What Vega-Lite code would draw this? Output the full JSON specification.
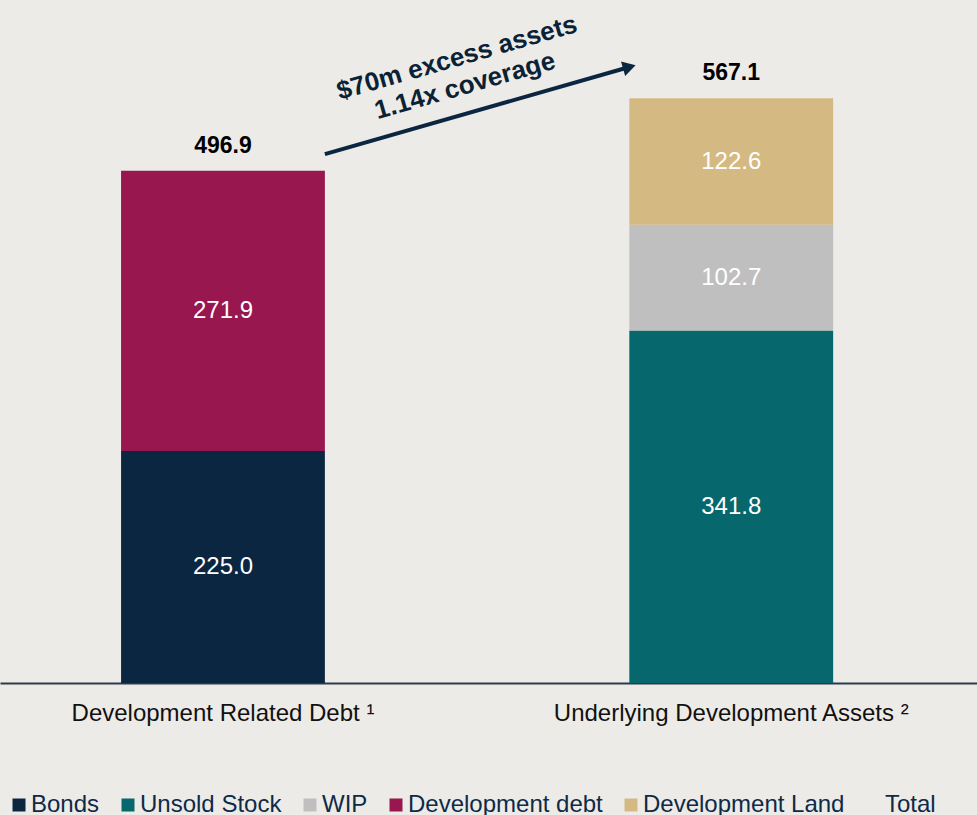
{
  "$schema": "https://vega.github.io/schema/vega-lite/v6.json",
  "width": 977,
  "height": 683,
  "autosize": {"type": "none"},
  "padding": {"left": 0, "top": 0, "right": 0, "bottom": 132},
  "background": "#EDEBE7",
  "config": {"view": {"stroke": null}, "font": "Liberation Sans"},
  "datasets": {
    "segments": [
      {"cat": "Development Related Debt", "series": "Bonds", "rank": 0, "value": 225.0},
      {"cat": "Development Related Debt", "series": "Development debt", "rank": 3, "value": 271.9},
      {"cat": "Underlying Development Assets", "series": "Unsold Stock", "rank": 1, "value": 341.8},
      {"cat": "Underlying Development Assets", "series": "WIP", "rank": 2, "value": 102.7},
      {"cat": "Underlying Development Assets", "series": "Development Land", "rank": 4, "value": 122.6}
    ],
    "arrow": [
      {"from": "Development Related Debt", "to": "Underlying Development Assets", "start": 513, "end": 597.5, "labelY": 606.2, "label": "$70m excess assets\n1.14x coverage"}
    ]
  },
  "layer": [
    {
      "data": {"name": "segments"},
      "transform": [
        {"stack": "value", "groupby": ["cat"], "sort": [{"field": "rank", "order": "ascending"}], "as": ["v0", "v1"]}
      ],
      "mark": {"type": "bar"},
      "encoding": {
        "x": {
          "field": "cat", "type": "nominal",
          "scale": {"domain": ["Development Related Debt", "Underlying Development Assets"], "paddingInner": 0.599, "paddingOuter": 0.2606, "align": 0.457},
          "axis": {
            "title": null, "labelAngle": 0, "ticks": false, "domain": true, "domainColor": "#2A3B4A", "domainWidth": 2,
            "labelFontSize": 24, "labelFont": "Liberation Sans", "labelColor": "#111111", "labelPadding": 18, "labelLimit": 600,
            "labelExpr": "datum.value == 'Development Related Debt' ? datum.value + ' ¹' : datum.value + ' ²'"
          }
        },
        "y": {"field": "v1", "type": "quantitative", "scale": {"domain": [0, 662.5], "nice": false, "zero": true}, "axis": null},
        "y2": {"field": "v0"},
        "color": {
          "field": "series", "type": "nominal",
          "scale": {
            "domain": ["Bonds", "Unsold Stock", "WIP", "Development debt", "Development Land", "Total"],
            "range": ["#0B2640", "#06676C", "#BFBFBF", "#97174E", "#D4BA82", "transparent"]
          },
          "legend": {
            "orient": "none", "legendX": 7, "legendY": 793, "direction": "horizontal", "columns": 6,
            "title": null, "symbolType": "square", "symbolSize": 169, "symbolStrokeWidth": 0,
            "labelFontSize": 24, "labelFont": "Liberation Sans", "labelColor": "#0D2A47",
            "labelOffset": 0, "columnPadding": 16, "padding": 0, "labelLimit": 400
          }
        }
      }
    },
    {
      "data": {"name": "segments"},
      "transform": [
        {"stack": "value", "groupby": ["cat"], "sort": [{"field": "rank", "order": "ascending"}], "as": ["v0", "v1"]},
        {"calculate": "(datum.v0 + datum.v1) / 2", "as": "mid"}
      ],
      "mark": {"type": "text", "color": "#FFFFFF", "fontSize": 24, "font": "Liberation Sans", "align": "center", "baseline": "middle"},
      "encoding": {
        "x": {"field": "cat", "type": "nominal"},
        "y": {"field": "mid", "type": "quantitative"},
        "text": {"field": "value", "type": "quantitative", "format": ".1f"}
      }
    },
    {
      "data": {"name": "segments"},
      "mark": {"type": "text", "color": "#000000", "fontSize": 23, "fontWeight": "bold", "font": "Liberation Sans", "align": "center", "baseline": "middle", "dy": -25},
      "encoding": {
        "x": {"field": "cat", "type": "nominal"},
        "y": {"aggregate": "sum", "field": "value", "type": "quantitative"},
        "text": {"aggregate": "sum", "field": "value", "type": "quantitative", "format": ".1f"}
      }
    },
    {
      "data": {"name": "arrow"},
      "mark": {"type": "rule", "color": "#0B2640", "strokeWidth": 4},
      "encoding": {
        "x": {"field": "from", "type": "nominal", "bandPosition": 1},
        "x2": {"field": "to", "bandPosition": 0},
        "y": {"field": "start", "type": "quantitative"},
        "y2": {"field": "end"}
      }
    },
    {
      "data": {"name": "arrow"},
      "mark": {"type": "point", "shape": "triangle-up", "filled": true, "size": 225, "angle": 74, "color": "#0B2640", "opacity": 1, "strokeWidth": 0},
      "encoding": {
        "x": {"field": "to", "type": "nominal", "bandPosition": 0},
        "y": {"field": "end", "type": "quantitative"}
      }
    },
    {
      "data": {"name": "arrow"},
      "mark": {"type": "text", "color": "#0B2235", "fontSize": 26, "fontWeight": "bold", "font": "Liberation Sans", "align": "center", "baseline": "middle", "angle": -16, "lineBreak": "\n", "lineHeight": 29},
      "encoding": {
        "x": {"field": "from", "type": "nominal", "bandPosition": 1.648},
        "y": {"field": "labelY", "type": "quantitative"},
        "text": {"field": "label"}
      }
    }
  ]
}
